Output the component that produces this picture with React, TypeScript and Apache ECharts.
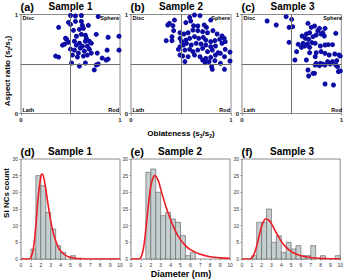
import React, { useEffect, useRef } from "react";
import * as echarts from "echarts";

// Scatter data: [oblateness (s3/s2), aspect ratio (s2/s1)]
const sample1Points: number[][] = [
  [0.50, 0.99], [0.55, 0.985], [0.61, 0.99], [0.78, 0.98], [0.38, 0.87], [0.48, 0.92], [0.50, 0.90],
  [0.55, 0.93], [0.61, 0.93], [0.62, 0.89], [0.68, 0.89], [0.53, 0.84], [0.59, 0.85], [0.63, 0.86],
  [0.76, 0.80], [0.56, 0.78], [0.61, 0.80], [0.65, 0.79], [0.88, 0.77], [0.99, 0.78], [0.46, 0.75],
  [0.48, 0.72], [0.44, 0.70], [0.42, 0.69], [0.54, 0.73], [0.59, 0.71], [0.65, 0.73], [0.69, 0.73],
  [0.71, 0.71], [0.56, 0.69], [0.62, 0.68], [0.67, 0.68], [0.69, 0.65], [0.50, 0.65], [0.54, 0.64],
  [0.58, 0.61], [0.64, 0.63], [0.71, 0.61], [0.77, 0.61], [0.87, 0.64], [0.99, 0.64], [0.52, 0.59],
  [0.57, 0.57], [0.63, 0.58], [0.67, 0.59], [0.35, 0.58], [0.38, 0.57], [0.82, 0.56], [0.86, 0.54],
  [0.88, 0.55], [0.51, 0.51], [0.59, 0.48], [0.65, 0.51], [0.76, 0.49], [0.78, 0.50], [0.74, 0.44],
  [0.45, 0.76], [0.60, 0.66], [0.66, 0.76],
];
const sample2Points: number[][] = [
  [0.635, 0.995], [0.69, 0.988], [0.587, 0.971], [0.435, 0.944], [0.384, 0.911], [0.368, 0.894],
  [0.419, 0.887], [0.548, 0.918], [0.597, 0.934], [0.626, 0.887], [0.668, 0.884], [0.732, 0.894],
  [0.755, 0.87], [0.797, 0.944], [0.426, 0.837], [0.49, 0.816], [0.529, 0.803], [0.571, 0.816],
  [0.619, 0.843], [0.668, 0.837], [0.716, 0.827], [0.765, 0.816], [0.819, 0.837], [0.861, 0.803],
  [0.91, 0.783], [0.352, 0.736], [0.41, 0.776], [0.41, 0.736], [0.49, 0.759], [0.506, 0.726],
  [0.548, 0.742], [0.587, 0.759], [0.635, 0.776], [0.677, 0.759], [0.723, 0.769], [0.748, 0.742],
  [0.797, 0.726], [0.839, 0.736], [0.887, 0.749], [0.932, 0.759], [0.49, 0.675], [0.523, 0.692],
  [0.555, 0.709], [0.603, 0.692], [0.652, 0.709], [0.70, 0.702], [0.748, 0.692], [0.797, 0.675],
  [0.845, 0.682], [0.91, 0.709], [0.942, 0.726], [0.474, 0.648], [0.539, 0.641], [0.587, 0.648],
  [0.619, 0.625], [0.668, 0.641], [0.716, 0.658], [0.765, 0.625], [0.813, 0.641], [0.871, 0.614],
  [0.942, 0.648], [0.49, 0.591], [0.516, 0.581], [0.571, 0.574], [0.635, 0.591], [0.69, 0.574],
  [0.748, 0.557], [0.797, 0.567], [0.845, 0.591], [0.894, 0.608], [0.935, 0.574], [0.539, 0.524],
  [0.716, 0.54], [0.742, 0.513], [0.781, 0.524], [0.839, 0.534], [0.894, 0.507], [0.806, 0.473],
  [0.813, 0.446], [0.935, 0.446], [0.99, 0.62], [0.99, 0.53],
];
const sample3Points: number[][] = [
  [0.444, 0.978], [0.50, 0.951], [0.253, 0.934], [0.345, 0.894], [0.474, 0.87], [0.51, 0.877],
  [0.664, 0.911], [0.697, 0.87], [0.73, 0.884], [0.78, 0.86], [0.836, 0.86], [0.763, 0.837],
  [0.813, 0.816], [0.829, 0.783], [0.944, 0.81], [0.648, 0.803], [0.681, 0.816], [0.605, 0.783],
  [0.638, 0.759], [0.671, 0.749], [0.714, 0.776], [0.747, 0.793], [0.796, 0.803], [0.474, 0.719],
  [0.566, 0.699], [0.615, 0.709], [0.658, 0.702], [0.704, 0.716], [0.737, 0.709], [0.599, 0.668],
  [0.632, 0.682], [0.681, 0.668], [0.789, 0.682], [0.836, 0.692], [0.868, 0.695], [0.911, 0.695],
  [0.549, 0.625], [0.681, 0.614], [0.747, 0.614], [0.796, 0.625], [0.836, 0.608], [0.878, 0.591],
  [0.934, 0.601], [0.977, 0.591], [0.737, 0.574], [0.648, 0.54], [0.533, 0.54], [0.747, 0.507],
  [0.789, 0.507], [0.813, 0.50], [0.862, 0.524], [0.911, 0.524], [0.954, 0.534], [0.737, 0.49],
  [0.78, 0.483], [0.836, 0.49], [0.888, 0.50], [0.944, 0.49], [0.961, 0.473], [0.97, 0.423],
  [0.664, 0.439], [0.73, 0.406], [0.671, 0.379], [0.714, 0.406], [0.836, 0.298], [0.921, 0.288],
  [0.99, 0.43], [0.99, 0.58],
];

// Histogram counts, bins of 0.5 nm from 0 to 10 nm
const binWidth = 0.5;
const sample1Counts = [0, 0, 3, 25, 22, 14, 9, 4, 2, 0, 1, 0, 0, 0, 0, 0, 0, 0, 0, 0];
const sample2Counts = [0, 0, 0, 26, 27, 20, 13, 14, 12, 11, 7, 1, 2, 0, 0, 0, 0, 0, 0, 0];
const sample3Counts = [0, 0, 1, 11, 11, 15, 5, 7, 2, 5, 3, 4, 1, 1, 4, 0, 1, 0, 0, 1];

// Fitted (red) curves
const fit1X = [0, 0.8, 1.0, 1.25, 1.5, 1.75, 2.0, 2.1, 2.25, 2.5, 2.75, 3.0, 3.25, 3.5, 3.75, 4.0, 4.5, 5.0, 5.5, 6.0, 7.0, 8.0, 9.0, 10.0];
const fit1Y = [0, 0, 0.4, 3, 10, 19, 24.8, 25.5, 25, 21, 16, 11.5, 8, 5.5, 3.6, 2.4, 1.1, 0.5, 0.2, 0.1, 0, 0, 0, 0];
const fit2X = [0, 0.8, 1.0, 1.25, 1.5, 1.75, 2.0, 2.25, 2.4, 2.75, 3.0, 3.5, 4.0, 4.5, 5.0, 5.5, 6.0, 7.0, 8.0, 9.0, 10.0];
const fit2Y = [0, 0, 0.5, 3, 9, 16, 22, 24.5, 25, 23.5, 21, 16, 11.8, 8.3, 5.8, 4, 2.8, 1.4, 0.7, 0.35, 0.2];
const fit3X = [0, 0.8, 1.0, 1.25, 1.5, 1.75, 2.0, 2.2, 2.4, 2.7, 3.0, 3.5, 4.0, 4.5, 5.0, 5.5, 6.0, 7.0, 8.0, 9.0, 10.0];
const fit3Y = [0, 0, 0.3, 1.6, 4, 7, 9.8, 11.3, 12, 11.7, 10.6, 7.8, 5.3, 3.5, 2.3, 1.5, 1, 0.45, 0.2, 0.08, 0.03];

const sampleTitles = ["Sample 1", "Sample 2", "Sample 3"];
const topTags = ["(a)", "(b)", "(c)"];
const bottomTags = ["(d)", "(e)", "(f)"];

const FONT = '"Liberation Sans", Arial, sans-serif';
const DOT = "#0d0da6";

export default function App() {
  const ref = useRef<HTMLDivElement>(null);
  useEffect(() => {
    if (!ref.current) return;
    const chart = echarts.init(ref.current, undefined, { renderer: "svg" });

    const scatterGrids = [
      { left: 21, top: 14.5, width: 99, height: 99 },
      { left: 131, top: 14.5, width: 100, height: 99 },
      { left: 242, top: 14.5, width: 101, height: 99 },
    ];
    const histGrids = [
      { left: 21, top: 159, width: 99, height: 100 },
      { left: 131, top: 159, width: 99, height: 100 },
      { left: 242, top: 159, width: 100, height: 100 },
    ];
    const gridStyle = { show: true, borderColor: "#8a8a8a", borderWidth: 1, backgroundColor: "transparent" };
    const grids = [...scatterGrids, ...histGrids].map((g) => ({ ...g, ...gridStyle }));

    const xAxes: any[] = [];
    const yAxes: any[] = [];
    for (let i = 0; i < 3; i++) {
      xAxes.push({
        gridIndex: i, type: "value", min: 0, max: 1, interval: 1,
        axisLine: { show: false }, splitLine: { show: false },
        axisTick: { show: true, length: 2, lineStyle: { color: "#8a8a8a" } },
        minorTick: { show: true, splitNumber: 10, length: 1, lineStyle: { color: "#aaa" } },
        axisLabel: { fontSize: 6, fontWeight: "bold", color: "#222", margin: 3, fontFamily: FONT },
      });
      yAxes.push({
        gridIndex: i, type: "value", min: 0, max: 1, interval: 1,
        axisLine: { show: false }, splitLine: { show: false },
        axisTick: { show: true, length: 2, lineStyle: { color: "#8a8a8a" } },
        minorTick: { show: true, splitNumber: 10, length: 1, lineStyle: { color: "#aaa" } },
        axisLabel: { fontSize: 6, fontWeight: "bold", color: "#222", margin: 3, fontFamily: FONT },
      });
    }
    for (let i = 0; i < 3; i++) {
      xAxes.push({
        gridIndex: 3 + i, type: "value", min: 0, max: 10, interval: 1,
        axisLine: { show: false }, splitLine: { show: false },
        axisTick: { show: true, length: 1.5, lineStyle: { color: "#8a8a8a" } },
        minorTick: { show: true, splitNumber: 2, length: 1, lineStyle: { color: "#aaa" } },
        axisLabel: { fontSize: 5, color: "#333", margin: 3, fontFamily: FONT },
      });
      yAxes.push({
        gridIndex: 3 + i, type: "value", min: 0, max: 30, interval: 5,
        axisLine: { show: false }, splitLine: { show: false },
        axisTick: { show: true, length: 1.5, lineStyle: { color: "#8a8a8a" } },
        minorTick: { show: true, splitNumber: 5, length: 1, lineStyle: { color: "#aaa" } },
        axisLabel: { fontSize: 5, color: "#333", margin: 3, fontFamily: FONT },
      });
    }

    const pointSets = [sample1Points, sample2Points, sample3Points];
    const countSets = [sample1Counts, sample2Counts, sample3Counts];
    const fitSets = [[fit1X, fit1Y], [fit2X, fit2Y], [fit3X, fit3Y]];

    const series: any[] = [];
    pointSets.forEach((pts, i) => {
      series.push({
        type: "scatter", xAxisIndex: i, yAxisIndex: i, data: pts,
        symbolSize: 5, itemStyle: { color: DOT, opacity: 1 },
        markLine: {
          silent: true, symbol: ["none", "none"], label: { show: false },
          lineStyle: { color: "#6e6e6e", width: 1, type: "solid" },
          data: [{ xAxis: 0.5 }, { yAxis: 0.5 }],
        },
      });
    });
    countSets.forEach((counts, i) => {
      const data = counts
        .map((c, k) => [k * binWidth, (k + 1) * binWidth, c])
        .filter((d) => d[2] > 0);
      series.push({
        type: "custom", xAxisIndex: 3 + i, yAxisIndex: 3 + i, data,
        encode: { x: [0, 1], y: 2 },
        renderItem: (_p: any, api: any) => {
          const a = api.coord([api.value(0), api.value(2)]);
          const b = api.coord([api.value(1), 0]);
          return {
            type: "rect",
            shape: { x: a[0], y: a[1], width: b[0] - a[0], height: b[1] - a[1] },
            style: { fill: "#c5cfcf", stroke: "#6b6b6b", lineWidth: 0.7 },
          };
        },
      });
    });
    fitSets.forEach(([xs, ys], i) => {
      series.push({
        type: "line", xAxisIndex: 3 + i, yAxisIndex: 3 + i,
        data: xs.map((x, k) => [x, ys[k]]), smooth: 0.4, showSymbol: false,
        lineStyle: { color: "#ee1c24", width: 1.6 }, z: 5,
      });
    });

    const txt = (text: string, x: number, y: number, size: number, align = "center", extra: any = {}) => ({
      type: "text", x, y, silent: true, ...extra,
      style: {
        text, fill: "#000", font: `bold ${size}px ${FONT}`,
        textAlign: align, textVerticalAlign: "middle",
      },
    });

    const graphics: any[] = [];
    const scatterCenters = [70.5, 181, 292.5];
    const histCenters = [70, 180, 292];
    scatterGrids.forEach((g, i) => {
      graphics.push(txt(topTags[i], g.left - 0.5, 7, 11, "left"));
      graphics.push(txt(sampleTitles[i], scatterCenters[i], 6.5, 10));
      graphics.push(txt("Disc", g.left + 1.5, g.top + 3.5, 5.5, "left"));
      graphics.push(txt("Sphere", g.left + g.width - 1, g.top + 3.5, 5.5, "right"));
      graphics.push(txt("Lath", g.left + 1.5, g.top + g.height - 3.5, 5.5, "left"));
      graphics.push(txt("Rod", g.left + g.width - 1, g.top + g.height - 3.5, 5.5, "right"));
    });
    histGrids.forEach((g, i) => {
      graphics.push(txt(bottomTags[i], g.left - 0.5, 152, 11, "left"));
      graphics.push(txt(sampleTitles[i], histCenters[i], 151, 10));
    });
    const rich = {
      m: { font: `bold 8px ${FONT}`, fill: "#000", lineHeight: 10, verticalAlign: "middle" },
      s: { font: `bold 5px ${FONT}`, fill: "#000", lineHeight: 10, verticalAlign: "bottom" },
    };
    graphics.push({
      type: "text", x: 181, y: 133, silent: true,
      style: { text: "{m|Oblateness (s}{s|3}{m|/s}{s|2}{m|)}", rich, textAlign: "center", textVerticalAlign: "middle" },
    });
    graphics.push({
      type: "text", x: 7, y: 71, rotation: Math.PI / 2, silent: true,
      style: { text: "{m|Aspect ratio (s}{s|2}{m|/s}{s|1}{m|)}", rich, textAlign: "center", textVerticalAlign: "middle" },
    });
    graphics.push(txt("Diameter (nm)", 181, 274, 9));
    graphics.push(txt("Si NCs count", 6, 193, 8, "center", { rotation: Math.PI / 2 }));

    chart.setOption({
      animation: false,
      backgroundColor: "#fff",
      grid: grids,
      xAxis: xAxes,
      yAxis: yAxes,
      series,
      graphic: graphics,
    });
    return () => chart.dispose();
  }, []);
  return (
    <div
      ref={ref}
      style={{ position: "fixed", left: 0, top: 0, width: 346, height: 280, background: "#fff" }}
    />
  );
}
